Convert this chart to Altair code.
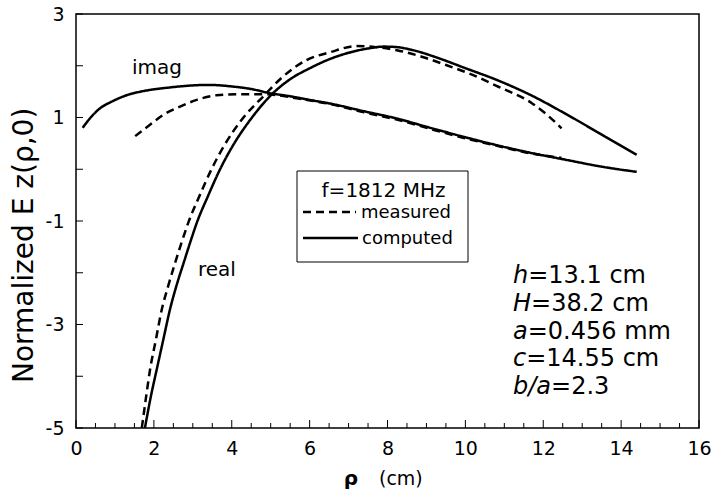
import altair as alt
import pandas as pd

# ---- data ----
real_computed_rho = [1.77, 1.92, 2.07, 2.24, 2.41, 2.58, 2.76, 2.93, 3.10, 3.40, 3.70, 4.00, 4.50,
                     5.06, 5.50, 6.00, 6.52, 7.00, 7.55, 7.90, 8.24, 8.66, 9.30, 9.94, 10.89,
                     11.66, 12.60, 13.50, 14.40]
real_computed_val = [-5.00, -4.40, -3.88, -3.30, -2.72, -2.25, -1.82, -1.42, -1.04, -0.50, 0.00,
                     0.42, 0.98, 1.47, 1.74, 1.95, 2.13, 2.25, 2.34, 2.37, 2.36, 2.30, 2.15, 1.97,
                     1.70, 1.44, 1.06, 0.67, 0.28]

real_measured_rho = [1.69, 1.80, 1.90, 2.05, 2.20, 2.37, 2.54, 2.71, 2.88, 3.18, 3.48, 3.80, 4.30,
                     4.80, 5.30, 5.92, 6.52, 7.20, 7.70, 8.24, 8.90, 9.52, 10.20, 10.80, 11.70,
                     12.10, 12.47]
real_measured_val = [-5.00, -4.40, -3.88, -3.30, -2.72, -2.25, -1.82, -1.42, -1.04, -0.50, 0.00,
                     0.45, 1.00, 1.40, 1.78, 2.11, 2.26, 2.38, 2.36, 2.30, 2.17, 2.01, 1.82, 1.61,
                     1.28, 1.05, 0.79]

imag_computed_rho = [0.17, 0.40, 0.62, 0.90, 1.30, 1.80, 2.40, 3.00, 3.40, 4.00, 4.50, 4.98, 5.50,
                     6.00, 6.52, 7.40, 8.24, 9.10, 9.94, 10.89, 11.66, 12.60, 13.50, 14.40]
imag_computed_val = [0.80, 1.02, 1.18, 1.30, 1.43, 1.52, 1.58, 1.62, 1.63, 1.60, 1.55, 1.47, 1.41,
                     1.34, 1.27, 1.12, 0.98, 0.80, 0.63, 0.45, 0.32, 0.18, 0.05, -0.05]

imag_measured_rho = [1.52, 1.90, 2.24, 2.70, 3.10, 3.61, 4.20, 4.80, 5.20, 5.67, 6.52, 7.40, 8.24,
                     9.10, 9.94, 10.89, 11.66, 12.47]
imag_measured_val = [0.64, 0.86, 1.05, 1.22, 1.34, 1.43, 1.45, 1.45, 1.43, 1.37, 1.26, 1.10, 0.96,
                     0.78, 0.61, 0.44, 0.31, 0.22]

x_major_ticks = [0, 2, 4, 6, 8, 10, 12, 14, 16]
x_minor_ticks = [0.5, 1, 1.5, 2.5, 3, 3.5, 4.5, 5, 5.5, 6.5, 7, 7.5, 8.5, 9, 9.5,
                 10.5, 11, 11.5, 12.5, 13, 13.5, 14.5, 15, 15.5]
y_label_ticks = [-5, -3, -1, 1, 3]
y_ticks = [-5, -4, -3, -2, -1, 0, 1, 2, 3]

y_title = "Normalized E z(ρ,0)"
legend_title = "f=1812 MHz"
legend_labels = ["measured", "computed"]
param_vars = ["h", "H", "a", "c", "b/a"]
param_rest = ["=13.1 cm", "=38.2 cm", "=0.456 mm", "=14.55 cm", "=2.3"]

# ---- build table ----
rows = []
for comp, typ, xs, ys in [
    ("real", "computed", real_computed_rho, real_computed_val),
    ("real", "measured", real_measured_rho, real_measured_val),
    ("imag", "computed", imag_computed_rho, imag_computed_val),
    ("imag", "measured", imag_measured_rho, imag_measured_val),
]:
    for x, y in zip(xs, ys):
        rows.append({"rho": x, "value": y, "comp": comp, "type": typ})
df = pd.DataFrame(rows)

FONT = "DejaVu Sans"
W, H = 623, 414

xscale = alt.Scale(domain=[0, 16], nice=False, zero=False)
yscale = alt.Scale(domain=[-5, 3], nice=False, zero=False)

xaxis = alt.Axis(values=x_major_ticks, title=None, labelPadding=11, labelFlush=False,
                 labelExpr="'' + datum.value")
yaxis = alt.Axis(values=y_label_ticks, title=None, labelPadding=12, labelFlush=False,
                 labelExpr="'' + datum.value")

lines = alt.Chart(df).mark_line(strokeWidth=2.5, color="black", clip=True,
                                interpolate="monotone").encode(
    x=alt.X("rho:Q", scale=xscale, axis=xaxis),
    y=alt.Y("value:Q", scale=yscale, axis=yaxis),
    detail="comp:N",
    strokeDash=alt.StrokeDash("type:N", scale=alt.Scale(domain=legend_labels,
                                                         range=[[8, 5], [1, 0]]), legend=None),
)

xmaj = alt.Chart(pd.DataFrame({"rho": x_major_ticks})).mark_rule(color="black", strokeWidth=1).encode(
    x="rho:Q", y=alt.value(H), y2=alt.value(H - 8))
xmin = alt.Chart(pd.DataFrame({"rho": x_minor_ticks})).mark_rule(color="black", strokeWidth=1).encode(
    x="rho:Q", y=alt.value(H), y2=alt.value(H - 5))
ytk = alt.Chart(pd.DataFrame({"value": y_ticks})).mark_rule(color="black", strokeWidth=1).encode(
    y="value:Q", x=alt.value(0), x2=alt.value(7))

ann = alt.Chart(pd.DataFrame({"rho": [2.08, 3.62], "value": [1.96, -1.95], "t": ["imag", "real"]})).mark_text(
    font=FONT, fontSize=20, color="black", align="center", baseline="middle").encode(
    x="rho:Q", y="value:Q", text="t:N")

one = pd.DataFrame({"k": [0]})
legend_box = alt.Chart(one).mark_rect(fill="white", stroke="black", strokeWidth=1).encode(
    x=alt.value(221), x2=alt.value(392), y=alt.value(157), y2=alt.value(248))
legend_t = alt.Chart(one).mark_text(font=FONT, fontSize=20, color="black", align="center",
                                    baseline="alphabetic", text=legend_title).encode(
    x=alt.value(307.5), y=alt.value(183))
leg_dash = alt.Chart(one).mark_rule(color="black", strokeWidth=2.5, strokeDash=[8, 5]).encode(
    x=alt.value(227), x2=alt.value(280), y=alt.value(198))
leg_solid = alt.Chart(one).mark_rule(color="black", strokeWidth=2.5).encode(
    x=alt.value(227), x2=alt.value(282), y=alt.value(224))
leg_l1 = alt.Chart(one).mark_text(font=FONT, fontSize=18, color="black", align="left",
                                  baseline="middle", text=legend_labels[0]).encode(
    x=alt.value(285), y=alt.value(199))
leg_l2 = alt.Chart(one).mark_text(font=FONT, fontSize=18, color="black", align="left",
                                  baseline="middle", text=legend_labels[1]).encode(
    x=alt.value(286), y=alt.value(225))

# parameter block: italic variable + upright remainder
oblique_w = {"h": 0.634, "H": 0.752, "a": 0.613, "c": 0.550, "b": 0.635, "/": 0.337}
PFS = 24
px0 = 437
baselines = [269, 297, 325, 352, 380]
params = []
for v, r, b in zip(param_vars, param_rest, baselines):
    w = sum(oblique_w[ch] for ch in v) * PFS
    params.append(alt.Chart(one).mark_text(font=FONT, fontSize=PFS, fontStyle="italic", color="black",
                                           align="left", baseline="alphabetic", text=v).encode(
        x=alt.value(px0), y=alt.value(b)))
    params.append(alt.Chart(one).mark_text(font=FONT, fontSize=PFS, color="black",
                                           align="left", baseline="alphabetic", text=r).encode(
        x=alt.value(px0 + w), y=alt.value(b)))

xt1 = alt.Chart(one).mark_text(font=FONT, fontSize=20, fontWeight="bold", color="black",
                               align="center", baseline="alphabetic", text="ρ").encode(
    x=alt.value(275), y=alt.value(471))
xt2 = alt.Chart(one).mark_text(font=FONT, fontSize=19, color="black",
                               align="left", baseline="alphabetic", text="(cm)").encode(
    x=alt.value(303), y=alt.value(471))

yt = alt.Chart(one).mark_text(font=FONT, fontSize=28, color="black", angle=270,
                              align="left", baseline="alphabetic", text=y_title).encode(
    x=alt.value(-43), y=alt.value(369))

chart = alt.layer(lines, xmaj, xmin, ytk, ann, legend_box, legend_t, leg_dash, leg_solid,
                  leg_l1, leg_l2, *params, xt1, xt2, yt).properties(
    width=W, height=H,
    autosize=alt.AutoSizeParams(type="none"),
    padding={"left": 76, "top": 14, "right": 13, "bottom": 65},
).configure_view(stroke="black", strokeWidth=1.5).configure_axis(
    labelFont=FONT, labelFontSize=19, labelColor="black", ticks=False, domain=False, grid=False
)

chart.save("out.html", embed_options={"renderer": "svg", "actions": False})
